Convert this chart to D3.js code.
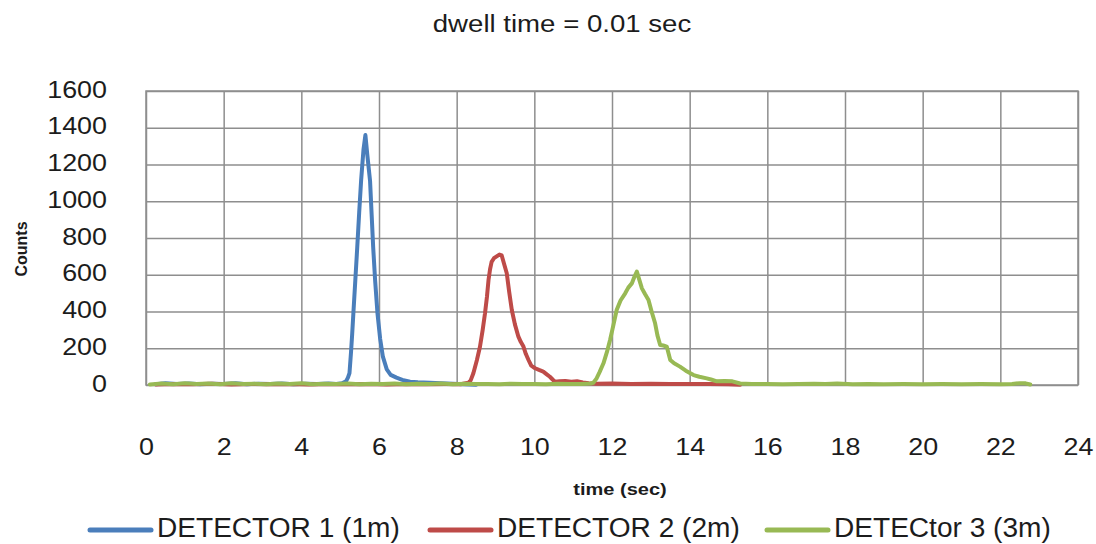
<!DOCTYPE html>
<html>
<head>
<meta charset="utf-8">
<script src="https://cdn.jsdelivr.net/npm/d3@7"></script>
<style>
  html, body { margin: 0; padding: 0; background: #fff; }
  svg { display: block; }
  text { font-family: "Liberation Sans", Arial, Helvetica, sans-serif; fill: #1c1c1c; }
</style>
</head>
<body>
<svg id="chart" width="1096" height="544"></svg>
<script>
// Counts recorded by each detector, as [time (sec), counts]
const detector1 = [[0.25,4],[0.5,9],[0.8,5],[1.1,8],[1.4,4],[1.7,7],[2.0,5],[2.3,9],[2.6,4],[2.9,7],[3.2,5],[3.5,8],[3.8,4],[4.1,7],[4.4,5],[4.7,8],[4.9,6],[5.05,9],[5.15,20],[5.2,40],[5.24,65],[5.28,180],[5.31,280],[5.34,390],[5.39,570],[5.44,750],[5.49,940],[5.54,1115],[5.6,1280],[5.65,1360],[5.7,1250],[5.74,1170],[5.77,1110],[5.81,930],[5.85,750],[5.9,570],[5.96,392],[6.03,250],[6.1,154],[6.2,85],[6.3,55],[6.45,40],[6.6,28],[6.8,18],[7.0,15],[7.3,12],[7.6,10],[7.9,7],[8.2,4],[8.5,2]];

const detector2 = [[0.25,3],[0.7,6],[1.2,4],[1.7,7],[2.2,3],[2.7,6],[3.2,4],[3.7,5],[4.2,3],[4.7,6],[5.2,4],[5.7,5],[6.2,3],[6.7,6],[7.2,4],[7.7,5],[8.1,4],[8.3,12],[8.36,25],[8.43,64],[8.52,135],[8.6,208],[8.67,300],[8.73,390],[8.78,480],[8.82,571],[8.86,630],[8.9,670],[8.96,690],[9.03,700],[9.1,710],[9.16,705],[9.22,660],[9.29,608],[9.35,510],[9.42,408],[9.5,330],[9.59,263],[9.65,235],[9.72,209],[9.78,170],[9.85,136],[9.92,105],[10.02,91],[10.12,82],[10.23,73],[10.32,58],[10.4,45],[10.47,30],[10.53,18],[10.65,20],[10.8,22],[10.95,18],[11.1,20],[11.25,14],[11.4,10],[11.6,7],[12.0,8],[12.5,6],[13.0,7],[13.5,5],[14.0,6],[14.5,5],[15.0,4],[15.3,2]];

const detector3 = [[0.1,3],[0.4,8],[0.7,4],[1.0,9],[1.3,5],[1.6,8],[1.9,4],[2.2,9],[2.5,5],[2.8,7],[3.1,4],[3.4,8],[3.7,5],[4.0,9],[4.3,4],[4.6,7],[4.9,5],[5.2,8],[5.5,4],[5.8,7],[6.1,5],[6.4,8],[6.7,4],[7.0,7],[7.3,5],[7.6,8],[7.9,4],[8.2,7],[8.5,5],[8.8,6],[9.1,4],[9.4,7],[9.7,5],[10.0,6],[10.3,4],[10.6,7],[10.9,5],[11.2,6],[11.45,8],[11.52,12],[11.6,35],[11.68,70],[11.78,118],[11.87,180],[11.95,245],[12.04,330],[12.12,408],[12.22,460],[12.34,499],[12.42,530],[12.51,553],[12.58,590],[12.64,617],[12.7,575],[12.77,526],[12.85,495],[12.94,463],[13.02,400],[13.11,336],[13.17,270],[13.24,218],[13.32,215],[13.41,209],[13.5,136],[13.6,118],[13.75,100],[13.9,78],[14.1,54],[14.25,45],[14.44,36],[14.55,30],[14.7,20],[14.9,22],[15.1,20],[15.3,8],[15.6,5],[16.0,6],[16.4,4],[16.8,5],[17.2,7],[17.5,5],[17.8,8],[18.2,4],[18.6,5],[19.0,4],[19.5,5],[20.0,4],[20.5,5],[21.0,4],[21.5,5],[22.0,4],[22.3,6],[22.5,10],[22.65,9],[22.77,3]];

const seriesNames = ["DETECTOR 1 (1m)", "DETECTOR 2 (2m)", "DETECtor 3 (3m)"];
const seriesColors = ["#4a7ebb", "#be4b48", "#98b954"];
const xTicks = [0, 2, 4, 6, 8, 10, 12, 14, 16, 18, 20, 22, 24];
const yTicks = [0, 200, 400, 600, 800, 1000, 1200, 1400, 1600];
const titleText = "dwell time = 0.01 sec";
const xTitle = "time (sec)";
const yTitle = "Counts";

const svg = d3.select("#chart");
const plot = { left: 146, right: 1078, top: 91, bottom: 385 };

const x = d3.scaleLinear().domain([0, 24]).range([plot.left, plot.right]);
const y = d3.scaleLinear().domain([0, 1600]).range([plot.bottom, plot.top]);

const gridColor = "#8e8e8e";

// vertical gridlines + time labels (labels sit well below the plot)
const xAxis = svg.append("g")
  .attr("transform", `translate(0,${plot.bottom})`)
  .call(d3.axisBottom(x).tickValues(xTicks).tickSize(-(plot.bottom - plot.top)).tickPadding(53).tickFormat(d3.format("d")));
xAxis.select(".domain").remove();
xAxis.selectAll(".tick line").attr("stroke", gridColor).attr("stroke-width", 1.5);
xAxis.selectAll(".tick text")
  .attr("font-size", 24)
  .attr("fill", "#1c1c1c")
  .style("font-family", '"Liberation Sans", Arial, sans-serif')
  .attr("transform", "scale(1.12,1)");

// horizontal gridlines + count labels
const yAxis = svg.append("g")
  .attr("transform", `translate(${plot.left},0)`)
  .call(d3.axisLeft(y).tickValues(yTicks).tickSize(-(plot.right - plot.left)).tickFormat(d3.format("d")));
yAxis.select(".domain").remove();
yAxis.selectAll(".tick line").attr("stroke", gridColor).attr("stroke-width", 1.5);
yAxis.selectAll(".tick text")
  .attr("x", 0)
  .attr("dy", "0.26em")
  .attr("font-size", 24)
  .attr("fill", "#1c1c1c")
  .style("font-family", '"Liberation Sans", Arial, sans-serif')
  .attr("transform", "translate(-39,0) scale(1.12,1)");

// plot frame
svg.append("rect")
  .attr("x", plot.left).attr("y", plot.top)
  .attr("width", plot.right - plot.left).attr("height", plot.bottom - plot.top)
  .attr("fill", "none").attr("stroke", gridColor).attr("stroke-width", 1.5);

// detector traces
const line = d3.line().x(d => x(d[0])).y(d => y(d[1]));
[detector1, detector2, detector3].forEach((data, i) => {
  svg.append("path")
    .datum(data)
    .attr("d", line)
    .attr("fill", "none")
    .attr("stroke", seriesColors[i])
    .attr("stroke-width", 4)
    .attr("stroke-linejoin", "round")
    .attr("stroke-linecap", "round");
});

// title
svg.append("text")
  .attr("transform", "translate(562,32) scale(1.15,1)")
  .attr("text-anchor", "middle")
  .attr("font-size", 24)
  .text(titleText);

// axis titles
svg.append("text")
  .attr("transform", "translate(620,495) scale(1.25,1)")
  .attr("text-anchor", "middle")
  .attr("font-size", 16)
  .attr("font-weight", "bold")
  .text(xTitle);

svg.append("text")
  .attr("transform", "translate(27,249) rotate(-90)")
  .attr("text-anchor", "middle")
  .attr("font-size", 16)
  .attr("font-weight", "bold")
  .text(yTitle);

// legend
const legendX = [90, 430, 767];
seriesNames.forEach((name, i) => {
  const g = svg.append("g").attr("transform", `translate(${legendX[i]},0)`);
  g.append("line")
    .attr("x1", 0).attr("x2", 61)
    .attr("y1", 530).attr("y2", 530)
    .attr("stroke", seriesColors[i])
    .attr("stroke-width", 5)
    .attr("stroke-linecap", "round");
  g.append("text")
    .attr("transform", "translate(67,537) scale(1.04,1)")
    .attr("font-size", 27)
    .text(name);
});
</script>
</body>
</html>
